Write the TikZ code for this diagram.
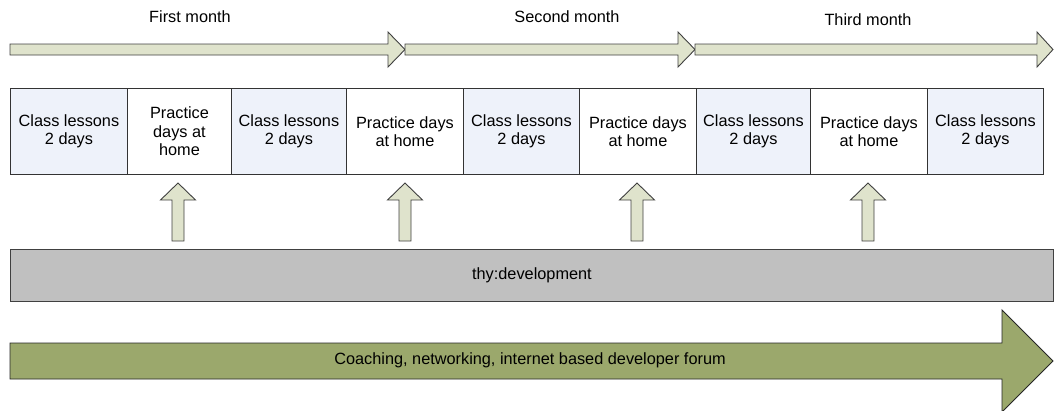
\documentclass[tikz,border=0pt]{standalone}
\usepackage{fontspec}
\setmainfont{Liberation Sans}
\definecolor{lessonblue}{HTML}{EEF2FA}
\definecolor{palegreen}{HTML}{DFE3CC}
\definecolor{forumgreen}{HTML}{9BA86C}
\definecolor{devgray}{HTML}{C0C0C0}
\begin{document}
\begin{tikzpicture}[x=1pt,y=-1pt,
    every node/.style={font=\fontsize{16.3}{18.5}\selectfont},
    cell/.style={draw=black!80,line width=0.9pt,anchor=north west,inner sep=0pt,
      minimum height=86pt,align=center},
    lesson/.style={cell,fill=lessonblue},
    home/.style={cell,fill=white},
    timearrow/.style={draw=black!75,line width=0.9pt,fill=palegreen}]
    \useasboundingbox (0,0) rectangle (1054,410);
      % months
      \draw[timearrow] (10,44) -- (388,44) -- (388,32) -- (405,49.5) -- (388,67) -- (388,55) -- (10,55) -- cycle;
      \draw[timearrow] (405,44) -- (678,44) -- (678,32) -- (695,49.5) -- (678,67) -- (678,55) -- (405,55) -- cycle;
      \draw[timearrow] (695,44) -- (1037,44) -- (1037,32) -- (1053,49.5) -- (1037,67) -- (1037,55) -- (695,55) -- cycle;
      \node (first) at (190,17) {First month};
      \node (second) at (567,17) {Second month};
      \node (third) at (868,20) {Third month};
      % weeks
      \node[lesson,minimum width=117pt] (c1) at (10,88) {Class lessons\\2 days};
      \node[home,minimum width=104pt] (h1) at (127,88) {Practice\\days at\\home};
      \node[lesson,minimum width=115pt] (c2) at (231,88) {Class lessons\\2 days};
      \node[home,minimum width=117pt] (h2) at (346,88) {Practice days\\at home};
      \node[lesson,minimum width=116pt] (c3) at (463,88) {Class lessons\\2 days};
      \node[home,minimum width=117pt] (h3) at (579,88) {Practice days\\at home};
      \node[lesson,minimum width=114pt] (c4) at (696,88) {Class lessons\\2 days};
      \node[home,minimum width=117pt] (h4) at (810,88) {Practice days\\at home};
      \node[lesson,minimum width=116pt] (c5) at (927,88) {Class lessons\\2 days};
      \foreach \c in {178,405,637,868}
        \draw[timearrow] (\c-6,241) -- (\c-6,200) -- (\c-17.5,200) -- (\c,183)
          -- (\c+17.5,200) -- (\c+6,200) -- (\c+6,241) -- cycle;
      % development
      \node[draw=black!75,line width=0.9pt,fill=devgray,anchor=north west,inner sep=0pt,
        minimum width=1043pt,minimum height=52pt] (dev) at (10,249) {thy:development};
      \draw[draw=black!85,line width=0.9pt,fill=forumgreen] (10,343) -- (1002,343) -- (1002,310)
        -- (1053,361) -- (1002,412) -- (1002,379) -- (10,379) -- cycle;
      \node (forum) at (530,360) {Coaching, networking, internet based developer forum};
    \end{tikzpicture}
\end{document}
